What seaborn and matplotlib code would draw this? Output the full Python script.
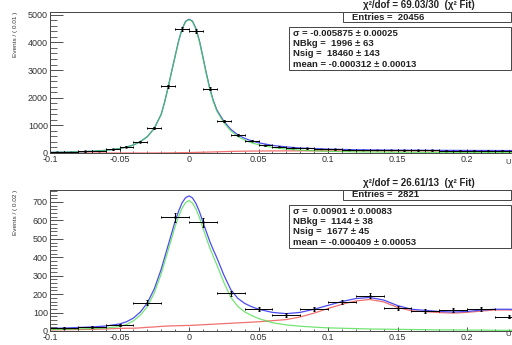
import numpy as np
import pandas as pd
import matplotlib
matplotlib.use("Agg")
import matplotlib.pyplot as plt
import seaborn as sns
from matplotlib.ticker import MultipleLocator
from matplotlib.patches import Rectangle

# ---- top panel data (bins of 0.01) ----
top_bin_x = [-0.095, -0.085, -0.075, -0.065, -0.055, -0.045, -0.035, -0.025, -0.015, -0.005,
             0.005, 0.015, 0.025, 0.035, 0.045, 0.055, 0.065, 0.075, 0.085, 0.095,
             0.105, 0.115, 0.125, 0.135, 0.145, 0.155, 0.165, 0.175, 0.185, 0.195,
             0.205, 0.215, 0.225, 0.235, 0.245]
top_counts = [30, 38, 55, 80, 133, 227, 406, 910, 2410, 4496,
              4424, 2327, 1151, 647, 442, 288, 227, 190, 165, 150,
              135, 125, 115, 110, 105, 100, 95, 92, 90, 88,
              86, 84, 82, 80, 78]
top_errs = [5, 6, 7, 9, 12, 15, 20, 30, 49, 67,
            67, 48, 34, 25, 21, 17, 15, 14, 13, 12,
            12, 11, 11, 10, 10, 10, 10, 10, 9, 9,
            9, 9, 9, 9, 9]

top_curve_x = [-0.10, -0.09, -0.08, -0.07, -0.06, -0.05, -0.045, -0.04, -0.035, -0.03,
               -0.025, -0.02, -0.0175, -0.015, -0.0125, -0.01, -0.0075, -0.005, -0.0025, 0.0,
               0.0025, 0.005, 0.0075, 0.01, 0.0125, 0.015, 0.0175, 0.02, 0.025, 0.03,
               0.035, 0.04, 0.045, 0.05, 0.06, 0.07, 0.08, 0.10, 0.12, 0.15,
               0.20, 0.25]
top_total = [22, 30, 42, 62, 95, 160, 215, 290, 410, 590,
             890, 1400, 1850, 2380, 2950, 3500, 4050, 4480, 4760, 4840,
             4770, 4500, 4060, 3480, 2880, 2330, 1900, 1560, 1150, 860,
             660, 530, 440, 370, 275, 220, 180, 140, 118, 102,
             92, 86]
top_sig = [22, 30, 42, 62, 95, 160, 215, 290, 410, 590,
           889, 1397, 1846, 2375, 2944, 3492, 4040, 4468, 4746, 4824,
           4751, 4478, 4035, 3452, 2848, 2295, 1861, 1518, 1100, 803,
           598, 464, 370, 298, 200, 143, 102, 62, 41, 27,
           20, 16]
top_bkg = [0, 0, 0, 0, 0, 0, 0, 0, 0, 0,
           1, 3, 4, 5, 6, 8, 10, 12, 14, 16,
           19, 22, 25, 28, 32, 35, 39, 42, 50, 57,
           62, 66, 70, 72, 75, 77, 78, 78, 77, 75,
           72, 70]

# ---- bottom panel data (bins of 0.02) ----
bot_bin_x = [-0.09, -0.07, -0.05, -0.03, -0.01, 0.01, 0.03, 0.05, 0.07, 0.09,
             0.11, 0.13, 0.15, 0.17, 0.19, 0.21, 0.23]
bot_counts = [15, 22, 34, 154, 616, 589, 205, 118, 87, 120,
              156, 192, 123, 110, 114, 120, 78]
bot_errs = [4, 5, 6, 12, 25, 24, 14, 11, 9, 11,
            12, 14, 11, 10, 11, 11, 9]

bot_curve_x = [-0.10, -0.09, -0.08, -0.07, -0.06, -0.05,
               -0.045, -0.04, -0.035, -0.03, -0.025, -0.02,
               -0.0175, -0.015, -0.0125, -0.01, -0.0075, -0.005, -0.0025,
               0.0,
               0.0025, 0.005, 0.0075, 0.01, 0.0125, 0.015, 0.0175, 0.02,
               0.025, 0.03, 0.035, 0.04, 0.045, 0.05,
               0.06, 0.07, 0.08, 0.09, 0.10, 0.11, 0.12, 0.13, 0.14, 0.15,
               0.16, 0.17, 0.18, 0.19, 0.20, 0.21, 0.22, 0.23, 0.24, 0.25]
bot_total = [14, 16, 19, 22, 27, 38,
             50, 70, 103, 152, 228, 335,
             400, 465, 530, 595, 650, 695, 723,
             733,
             722, 692, 648, 592, 538, 485, 440, 398,
             305, 225, 178, 150, 132, 118,
             101, 94, 101, 118, 139, 160, 176, 182, 168, 138,
             118, 112, 106, 103, 106, 113, 118, 118, 116, 114]
bot_sig = [8, 9, 11, 13, 16, 24,
           35, 55, 86, 132, 206, 310,
           374, 438, 502, 567, 621, 666, 696,
           708,
           694, 662, 616, 560, 504, 450, 404, 360,
           265, 183, 134, 104, 84, 68,
           45, 33, 26, 21, 17, 15, 13, 11, 10, 9,
           8, 7, 6, 6, 5, 5, 4, 4, 4, 3]
bot_bkg = [6, 7, 8, 9, 11, 14,
           15, 15, 17, 20, 22, 25,
           26, 27, 28, 28, 29, 29, 30,
           30,
           31, 32, 33, 34, 35, 36, 37, 38,
           40, 42, 44, 46, 48, 50,
           56, 62, 76, 97, 122, 145, 163, 171, 158, 128,
           110, 105, 100, 97, 101, 108, 114, 114, 112, 111]

x_ticks = [-0.1, -0.05, 0, 0.05, 0.1, 0.15, 0.2]
x_tick_labels = ["-0.1", "-0.05", "0", "0.05", "0.1", "0.15", "0.2"]
top_y_ticks = [0, 1000, 2000, 3000, 4000, 5000]
bot_y_ticks = [0, 100, 200, 300, 400, 500, 600, 700]

top_texts = ["\u03c7\u00b2/dof = 69.03/30  (\u03c7\u00b2 Fit)", "Entries =  20456",
             ["\u03c3 = -0.005875 \u00b1 0.00025", "NBkg =  1996 \u00b1 63",
              "Nsig =  18460 \u00b1 143", "mean = -0.000312 \u00b1 0.00013"]]
bot_texts = ["\u03c7\u00b2/dof = 26.61/13  (\u03c7\u00b2 Fit)", "Entries =  2821",
             ["\u03c3 =  0.00901 \u00b1 0.00083", "NBkg =  1144 \u00b1 38",
              "Nsig =  1677 \u00b1 45", "mean = -0.000409 \u00b1 0.00053"]]

sns.set_style("ticks")
plt.rcParams["font.family"] = ["Liberation Sans", "DejaVu Sans"]

W, H = 512, 345
fig = plt.figure(figsize=(W / 100, H / 100), dpi=100)


def fx(px):
    return px / W


def fy(py):
    return 1 - py / H


BLUE = "#4b4bf0"
GREEN = "#45dc45"
RED = "#f07070"


def panel(ax, bx, counts, errs, hw, cx, total, sig, bkg, yticks, ymax, yminor):
    sns.lineplot(x=cx, y=bkg, ax=ax, color=RED, lw=0.9, estimator=None)
    sns.lineplot(x=cx, y=total, ax=ax, color=BLUE, lw=0.9, estimator=None)
    sns.lineplot(x=cx, y=sig, ax=ax, color=GREEN, lw=0.9, alpha=0.75, estimator=None)
    ax.errorbar(bx, counts, xerr=hw, yerr=errs, fmt="none", ecolor="black",
                elinewidth=0.7, capsize=1.0, capthick=0.7)
    sns.scatterplot(x=bx, y=counts, ax=ax, s=3, color="black", edgecolor=None)
    ax.set_xlim(-0.1, 0.25)
    ax.set_ylim(0, ymax)
    ax.set_xticks(x_ticks)
    ax.set_xticklabels(x_tick_labels)
    ax.set_yticks(yticks)
    ax.set_yticklabels([str(v) for v in yticks])
    ax.xaxis.set_minor_locator(MultipleLocator(0.01))
    ax.yaxis.set_minor_locator(MultipleLocator(yminor))
    ax.tick_params(axis="y", which="major", direction="in", length=9.4, width=0.6,
                   labelsize=6.5, pad=1.5, colors="#333333")
    ax.tick_params(axis="y", which="minor", direction="in", length=4.7, width=0.5)
    ax.tick_params(axis="x", which="major", direction="in", length=3.0, width=0.6,
                   labelsize=6.5, pad=1.5, colors="#333333")
    ax.tick_params(axis="x", which="minor", direction="in", length=1.5, width=0.5)
    for s in ax.spines.values():
        s.set_color("#444444")
        s.set_linewidth(0.7)
    ax.set_xlabel("")
    ax.set_ylabel("")
    ax.set_facecolor("white")


ax1 = fig.add_axes([fx(50), fy(153), 486.5 / W, 141 / H])
ax2 = fig.add_axes([fx(50), fy(331), 486.5 / W, 141 / H])

panel(ax1, top_bin_x, top_counts, top_errs, 0.005, top_curve_x, top_total, top_sig, top_bkg,
      top_y_ticks, 5100, 200)
panel(ax2, bot_bin_x, bot_counts, bot_errs, 0.01, bot_curve_x, bot_total, bot_sig, bot_bkg,
      bot_y_ticks, 765, 20)


def stats(top, texts):
    # chi2 line above the frame
    fig.text(fx(419), fy(top - 7), texts[0], ha="center", va="center",
             fontsize=7, fontweight="bold", color="#222222")
    # entries box
    fig.add_artist(Rectangle((fx(343), fy(top + 10)), fx(511) - fx(343), 10 / H,
                             transform=fig.transFigure, fill=True, facecolor="white",
                             edgecolor="#444444", lw=0.7))
    fig.text(fx(352), fy(top + 5), texts[1], ha="left", va="center",
             fontsize=6.8, fontweight="bold", color="#222222")
    # parameters box
    fig.add_artist(Rectangle((fx(289), fy(top + 58)), fx(511) - fx(289), 43 / H,
                             transform=fig.transFigure, fill=True, facecolor="white",
                             edgecolor="#444444", lw=0.7))
    for i, line in enumerate(texts[2]):
        fig.text(fx(293), fy(top + 21.5 + 10.2 * i), line, ha="left", va="center",
                 fontsize=6.8, fontweight="bold", color="#222222")


stats(12, top_texts)
stats(190, bot_texts)

fig.text(fx(16), fy(12), "Events / ( 0.01 )", rotation=90, ha="center", va="top",
         fontsize=4.6, color="#333333")
fig.text(fx(16), fy(190), "Events / ( 0.02 )", rotation=90, ha="center", va="top",
         fontsize=4.6, color="#333333")
fig.text(fx(508), fy(163), "U", ha="center", va="center", fontsize=5.5, color="#333333")
fig.text(fx(508), fy(334), "U", ha="center", va="center", fontsize=5.5, color="#333333")

fig.savefig("out.png", dpi=100, facecolor="white")
